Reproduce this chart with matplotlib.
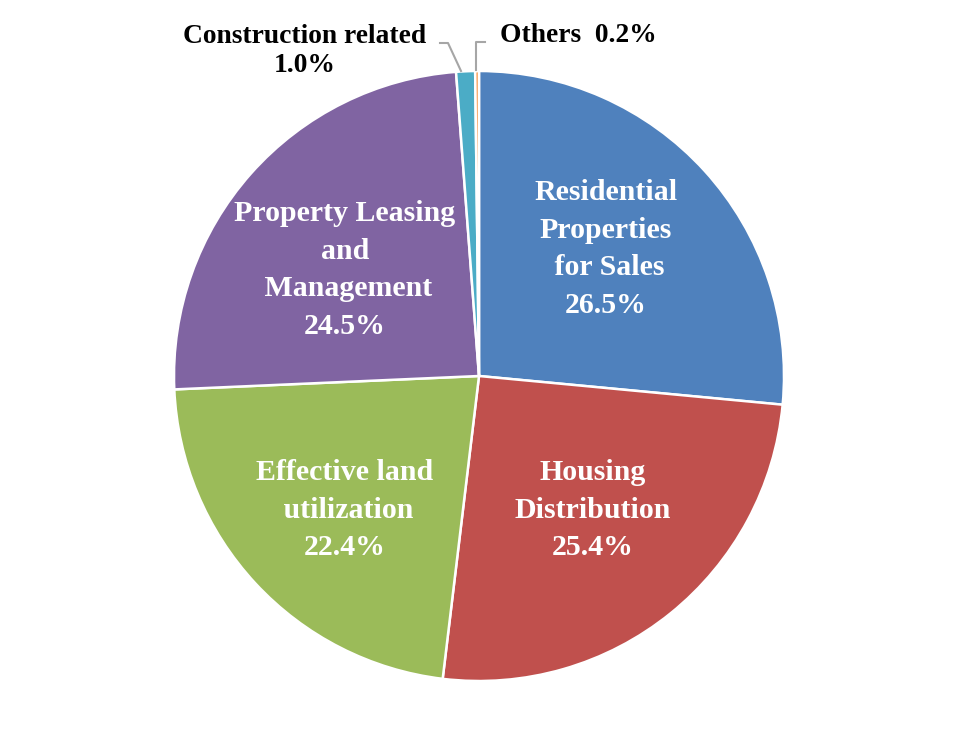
import matplotlib
matplotlib.use("Agg")
import matplotlib.pyplot as plt
import numpy as np

categories = ["Residential\nProperties\n for Sales", "Housing\nDistribution",
              "Effective land\n utilization", "Property Leasing\nand\n Management",
              "Construction related", "Others"]
values = [26.5, 25.4, 22.4, 24.5, 1.0, 0.2]
colors = ["#4F81BD", "#C0504D", "#9BBB59", "#8064A2", "#4BACC6", "#F79646"]

W, H = 957, 751
fig = plt.figure(figsize=(W / 100, H / 100), dpi=100)
ax = fig.add_axes([0, 0, 1, 1])

cx, cy, r = 479, H - 376, 305
ax.pie(values, colors=colors, startangle=90, counterclock=False,
       center=(cx, cy), radius=r, frame=True,
       wedgeprops=dict(edgecolor="white", linewidth=1.8))
ax.set_xlim(0, W)
ax.set_ylim(0, H)
ax.axis("off")
ax.set_aspect("equal")

font = dict(family="Liberation Serif", weight="bold", fontsize=21.5)
inner = [
    (f"{categories[0]}\n{values[0]:.1f}%", 606, H - 249),
    (f"{categories[1]}\n{values[1]:.1f}%", 593, H - 510),
    (f"{categories[2]}\n{values[2]:.1f}%", 345, H - 510),
    (f"{categories[3]}\n{values[3]:.1f}%", 345, H - 270),
]
for txt, x, y in inner:
    ax.text(x, y, txt, color="white", ha="center", va="center",
            linespacing=1.5, **font)

ofont = dict(family="Liberation Serif", weight="bold", fontsize=19.8)
ax.text(305, H - 51, f"{categories[4]}\n{values[4]:.1f}%", color="black",
        ha="center", va="center", linespacing=1.25, **ofont)
ax.text(500, H - 35, f"{categories[5]}  {values[5]:.1f}%", color="black",
        ha="left", va="center", **ofont)

ax.plot([461, 448, 440], [H - 71, H - 43, H - 43], color="#A6A6A6", lw=1.5)
ax.plot([476, 476, 485], [H - 70, H - 42, H - 42], color="#A6A6A6", lw=1.5)

fig.savefig("out.png", dpi=100, facecolor="white")
